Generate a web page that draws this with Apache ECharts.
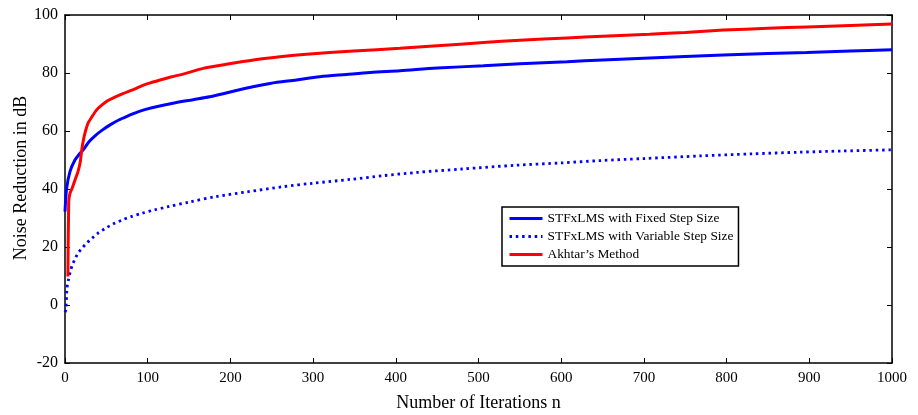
<!DOCTYPE html>
<html><head><meta charset="utf-8">
<script src="https://cdn.jsdelivr.net/npm/echarts@6/dist/echarts.min.js"></script>
<style>html,body{margin:0;padding:0;background:#fff}#c{width:918px;height:415px}</style>
</head><body><div id="c"></div>
<script>
var seriesNames = ['STFxLMS with Fixed Step Size', 'STFxLMS with Variable Step Size', "Akhtar\u2019s Method"];
var xAxisTitle = 'Number of Iterations n';
var yAxisTitle = 'Noise Reduction in dB';

var nFixed = [0, 2, 6, 12, 17, 22, 29, 37, 45, 55, 65, 77, 89, 105, 129, 155, 175, 187, 220, 248, 280, 308, 340, 369, 405, 450, 506, 550, 607, 650, 707, 750, 796, 850, 897, 950, 1000];
var fixedVals = [32.2, 40.2, 46, 50, 51.9, 53.5, 56.3, 58.5, 60.3, 62.2, 63.8, 65.3, 66.7, 68, 69.5, 70.8, 71.8, 72.6, 74.8, 76.4, 77.6, 78.7, 79.5, 80.2, 80.8, 81.7, 82.5, 83.2, 83.9, 84.5, 85.2, 85.7, 86.2, 86.7, 87.1, 87.6, 88.0];

var nVar = [0, 1, 2.4, 4, 6.4, 9, 12.5, 16, 20.5, 26, 32.6, 40, 48.7, 58, 69, 80, 93, 108, 125, 150, 183, 220, 264, 300, 345, 385, 425, 480, 546, 600, 647, 700, 768, 830, 889, 940, 1000];
var varVals = [-2.5, -1.7, 5.7, 8.5, 11.5, 13.9, 16.1, 18, 19.5, 21.3, 23, 24.8, 26.4, 27.9, 29.3, 30.5, 31.6, 32.8, 33.9, 35.5, 37.4, 39, 40.8, 42, 43.3, 44.6, 45.7, 46.9, 48.2, 49, 49.8, 50.5, 51.4, 52.1, 52.7, 53.1, 53.5];

var nAkhtar = [3.5, 4.5, 6, 8.5, 12, 15.7, 18.5, 20.5, 22.5, 24.6, 28, 32.6, 38, 44.7, 52, 61, 70, 81, 90, 101, 115, 129, 145, 167, 195, 228, 260, 288, 320, 349, 405, 450, 506, 550, 607, 650, 707, 750, 796, 850, 897, 950, 1000];
var akhtarVals = [9.8, 35.6, 38.5, 40.2, 43, 46, 49.4, 54, 57.2, 59.8, 62.8, 64.9, 67.2, 69, 70.5, 71.8, 72.9, 74.1, 75.2, 76.4, 77.6, 78.7, 79.8, 81.6, 83, 84.5, 85.6, 86.4, 87.1, 87.6, 88.5, 89.4, 90.5, 91.3, 92.1, 92.7, 93.4, 94, 94.8, 95.4, 95.9, 96.4, 96.9];

function pairs(xs, ys) { return xs.map(function (x, i) { return [x, ys[i]]; }); }

var FONT = 'Liberation Serif';
var chart = echarts.init(document.getElementById('c'), null, {renderer: 'canvas'});
var axisCommon = {
  type: 'value',
  axisLine: {show: true, onZero: false, lineStyle: {color: '#000', width: 1.5}},
  axisTick: {show: true, inside: true, length: 5, lineStyle: {color: '#000', width: 1}},
  splitLine: {show: false}
};
chart.setOption({
  animation: false,
  backgroundColor: '#fff',
  grid: {left: 65, right: 26, top: 15, bottom: 52, containLabel: false, outerBoundsMode: 'none'},
  legend: {
    orient: 'vertical', left: 502, top: 207,
    backgroundColor: '#fff', borderColor: '#000', borderWidth: 1.5,
    padding: [5, 5, 5, 6], itemGap: 5, itemWidth: 33, itemHeight: 13,
    itemStyle: {opacity: 0},
    lineStyle: {width: 3},
    textStyle: {fontFamily: FONT, fontSize: 13.4, color: '#000'},
    data: seriesNames
  },
  graphic: [{
    type: 'text', x: 21, y: 178, rotation: Math.PI / 2,
    style: {text: yAxisTitle, fontFamily: FONT, fontSize: 18, fill: '#000', align: 'center', verticalAlign: 'middle'}
  }],
  xAxis: [
    Object.assign({}, axisCommon, {
      min: 0, max: 1000, interval: 100, position: 'bottom',
      name: xAxisTitle, nameLocation: 'middle', nameGap: 31,
      nameTextStyle: {fontFamily: FONT, fontSize: 18, color: '#000'},
      axisLabel: {fontFamily: FONT, fontSize: 15, color: '#000', margin: 8, formatter: function (v) { return String(v); }}
    }),
    Object.assign({}, axisCommon, {
      min: 0, max: 1000, interval: 100, position: 'top', axisLabel: {show: false}
    })
  ],
  yAxis: [
    Object.assign({}, axisCommon, {
      min: -20, max: 100, interval: 20, position: 'left',
      axisLabel: {fontFamily: FONT, fontSize: 16, color: '#000', margin: 7}
    }),
    Object.assign({}, axisCommon, {
      min: -20, max: 100, interval: 20, position: 'right', axisLabel: {show: false}
    })
  ],
  series: [
    {name: seriesNames[0], type: 'line', symbol: 'none', smooth: 0.3, data: pairs(nFixed, fixedVals),
     lineStyle: {color: '#0000ff', width: 3}, itemStyle: {color: '#0000ff'}, z: 3},
    {name: seriesNames[1], type: 'line', symbol: 'none', smooth: 0.3, data: pairs(nVar, varVals),
     lineStyle: {color: '#0000ff', width: 2.8, type: [2.5, 3.8]}, itemStyle: {color: '#0000ff'}, z: 3},
    {name: seriesNames[2], type: 'line', symbol: 'none', smooth: 0.2, data: pairs(nAkhtar, akhtarVals),
     lineStyle: {color: '#ff0000', width: 3}, itemStyle: {color: '#ff0000'}, z: 4}
  ]
});
</script></body></html>
